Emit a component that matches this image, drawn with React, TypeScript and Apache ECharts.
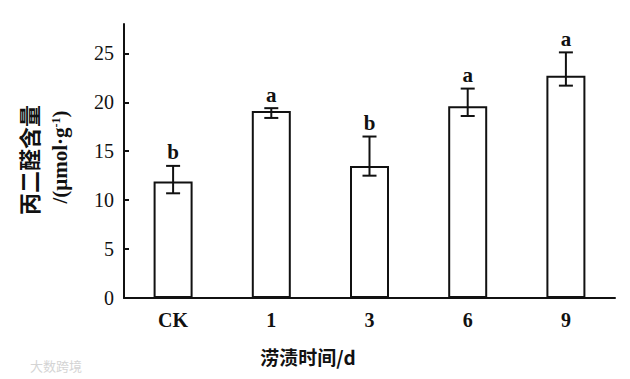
import React, { useEffect, useRef } from "react";
import * as echarts from "echarts";

const categories = ["CK", "1", "3", "6", "9"];
const means = [11.9, 19.1, 13.5, 19.6, 22.7];
const errLow = [10.7, 18.4, 12.5, 18.6, 21.7];
const errHigh = [13.5, 19.4, 16.5, 21.4, 25.1];
const letters = ["b", "a", "b", "a", "a"];
const yTicks = [0, 5, 10, 15, 20, 25];

const serif = "'Liberation Serif', 'Times New Roman', serif";
const cjk = "'Noto Sans CJK SC', sans-serif";

export default function App() {
  const ref = useRef<HTMLDivElement>(null);
  useEffect(() => {
    const chart = echarts.init(ref.current!, null, { renderer: "svg" });
    chart.setOption({
      animation: false,
      backgroundColor: "#ffffff",
      grid: { left: 124, right: 15, top: 24, bottom: 81 },
      xAxis: {
        type: "category",
        data: categories,
        axisLine: { lineStyle: { color: "#111", width: 2 } },
        axisTick: { show: false },
        axisLabel: { color: "#111", fontFamily: serif, fontSize: 20, fontWeight: "bold", margin: 12 },
      },
      yAxis: {
        type: "value",
        min: 0,
        max: 28,
        interval: 5,
        splitLine: { show: false },
        axisLine: { show: true, lineStyle: { color: "#111", width: 2 } },
        axisTick: { show: true, inside: true, length: 5, lineStyle: { width: 2, color: "#111" }, customValues: yTicks },
        axisLabel: { color: "#111", fontFamily: serif, fontSize: 20, margin: 10, customValues: yTicks },
      },
      graphic: [
        {
          type: "text",
          x: 28,
          y: 160,
          rotation: Math.PI / 2,
          style: {
            text: "丙二醛含量",
            fontFamily: cjk,
            fontSize: 22,
            fontWeight: "bold",
            fill: "#111",
            textAlign: "center",
            textVerticalAlign: "middle",
          },
        },
        {
          type: "text",
          x: 60,
          y: 157,
          rotation: Math.PI / 2,
          style: {
            text: "/(μmol·g{sup|-1})",
            fontFamily: serif,
            fontSize: 21,
            fontWeight: "bold",
            fill: "#111",
            textAlign: "center",
            textVerticalAlign: "middle",
            rich: {
              sup: { fontFamily: serif, fontSize: 12, fontWeight: "bold", verticalAlign: "top", fill: "#111" },
            },
          },
        },
        {
          type: "text",
          x: 308,
          y: 356,
          style: {
            text: "涝渍时间/d",
            fontFamily: cjk,
            fontSize: 19,
            fontWeight: "bold",
            fill: "#111",
            textAlign: "center",
            textVerticalAlign: "middle",
          },
        },
        {
          type: "text",
          x: 30,
          y: 365,
          style: {
            text: "大数跨境",
            fontFamily: cjk,
            fontSize: 13,
            fill: "#d4d4d4",
            textAlign: "left",
            textVerticalAlign: "middle",
          },
        },
      ],
      series: [
        {
          type: "bar",
          data: means,
          barWidth: 39,
          itemStyle: { color: "#ffffff", borderColor: "#111", borderWidth: 2 },
          z: 2,
        },
        {
          type: "custom",
          z: 3,
          data: categories.map((_, i) => [i, errLow[i], errHigh[i]]),
          renderItem: (params: any, api: any) => {
            const i = api.value(0);
            const lo = api.coord([i, api.value(1)]);
            const hi = api.coord([i, api.value(2)]);
            const hw = 7;
            const ls = { stroke: "#111", lineWidth: 2 };
            return {
              type: "group",
              children: [
                { type: "line", shape: { x1: lo[0], y1: lo[1], x2: hi[0], y2: hi[1] }, style: ls },
                { type: "line", shape: { x1: lo[0] - hw, y1: lo[1], x2: lo[0] + hw, y2: lo[1] }, style: ls },
                { type: "line", shape: { x1: hi[0] - hw, y1: hi[1], x2: hi[0] + hw, y2: hi[1] }, style: ls },
                {
                  type: "text",
                  x: hi[0],
                  y: hi[1] - 3,
                  style: {
                    text: letters[params.dataIndex],
                    fontFamily: serif,
                    fontSize: 21,
                    fontWeight: "bold",
                    fill: "#111",
                    textAlign: "center",
                    textVerticalAlign: "bottom",
                  },
                },
              ],
            };
          },
        },
      ],
    });
    return () => chart.dispose();
  }, []);
  return <div ref={ref} style={{ width: 630, height: 379, position: "absolute", left: 0, top: 0 }} />;
}
